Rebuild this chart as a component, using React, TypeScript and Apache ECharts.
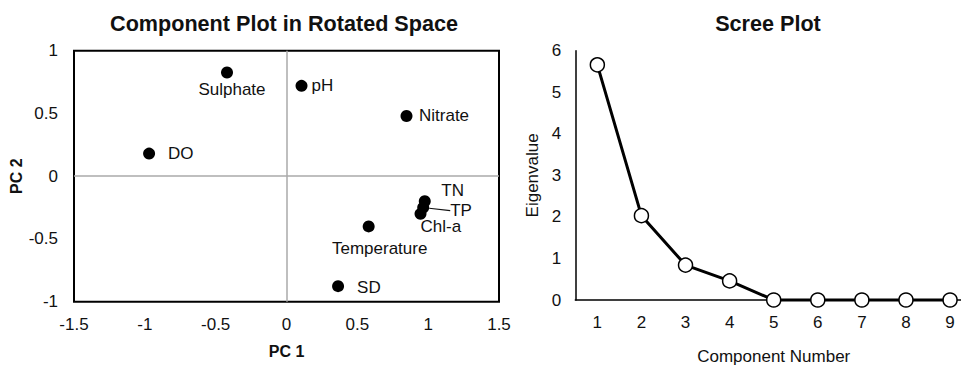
import React, { useEffect, useRef } from "react";
import * as echarts from "echarts";

const varNames = ["Sulphate", "pH", "Nitrate", "DO", "TN", "TP", "Chl-a", "Temperature", "SD"];
const pc1 = [-0.42, 0.106, 0.847, -0.97, 0.976, 0.965, 0.946, 0.58, 0.364];
const pc2 = [0.826, 0.72, 0.48, 0.18, -0.2, -0.25, -0.3, -0.4, -0.876];

const pcTicksX = [-1.5, 1.5, 0.5];
const pcTicksY = [-1, 1, 0.5];

const componentNumbers = ["1", "2", "3", "4", "5", "6", "7", "8", "9"];
const eigenvalues = [5.66, 2.03, 0.84, 0.46, 0, 0, 0, 0, 0];

// label placement (style, not data)
const labelPlace: Record<string, { align: string; dx: number; dy: number; leader?: boolean }> = {
  Sulphate: { align: "center", dx: 5, dy: 17 },
  pH: { align: "left", dx: 10, dy: 0 },
  Nitrate: { align: "left", dx: 12.5, dy: 0 },
  DO: { align: "left", dx: 19, dy: 0 },
  TN: { align: "left", dx: 16.5, dy: -10.5 },
  TP: { align: "left", dx: 27, dy: 3, leader: true },
  "Chl-a": { align: "left", dx: 0, dy: 13 },
  Temperature: { align: "center", dx: 11, dy: 22.5 },
  SD: { align: "left", dx: 19, dy: 1 },
};

const FONT = "Liberation Sans, Arial, Helvetica, sans-serif";
const TXT = "#111";

export default function App() {
  const ref = useRef<HTMLDivElement>(null);
  useEffect(() => {
    if (!ref.current) return;
    const chart = echarts.init(ref.current, undefined, { renderer: "svg" });
    const scatterData = varNames.map((n, i) => {
      const p = labelPlace[n];
      return {
        name: n,
        value: [pc1[i], pc2[i]],
        label: {
          show: true,
          position: "inside",
          align: p.align,
          verticalAlign: "middle",
          formatter: n,
        },
        labelLine: p.leader
          ? { show: true, length2: 0, smooth: 0.4, lineStyle: { color: "#111", width: 1.2 } }
          : { show: false },
      };
    });
    chart.setOption({
      animation: false,
      textStyle: { fontFamily: FONT },
      graphic: [
        {
          type: "text",
          x: 284,
          y: 23,
          style: {
            text: "Component Plot in Rotated Space",
            font: `bold 21.6px ${FONT}`,
            fill: TXT,
            textAlign: "center",
            textVerticalAlign: "middle",
          },
        },
        {
          type: "text",
          x: 768,
          y: 23,
          style: {
            text: "Scree Plot",
            font: `bold 21.6px ${FONT}`,
            fill: TXT,
            textAlign: "center",
            textVerticalAlign: "middle",
          },
        },
      ],
      grid: [
        {
          left: 74,
          top: 50.7,
          width: 425,
          height: 251,
          show: true,
          borderColor: "#000",
          borderWidth: 2,
          backgroundColor: "transparent",
          outerBoundsMode: "none",
          containLabel: false,
        },
        {
          left: 575.3,
          top: 50.7,
          width: 396.8,
          height: 249.3,
          outerBoundsMode: "none",
          containLabel: false,
        },
      ],
      xAxis: [
        {
          gridIndex: 0,
          type: "value",
          min: pcTicksX[0],
          max: pcTicksX[1],
          interval: pcTicksX[2],
          axisLine: { show: false },
          axisTick: { show: false },
          splitLine: { show: false },
          axisLabel: { color: TXT, fontSize: 17, margin: 14, fontFamily: FONT },
          name: "PC 1",
          nameLocation: "middle",
          nameGap: 42,
          nameTextStyle: { color: TXT, fontSize: 16, fontWeight: "bold", fontFamily: FONT },
        },
        {
          gridIndex: 1,
          type: "category",
          data: componentNumbers,
          boundaryGap: true,
          axisLine: { show: true, lineStyle: { color: "#000", width: 1.5 } },
          axisTick: { show: false },
          splitLine: { show: false },
          axisLabel: { color: TXT, fontSize: 17, margin: 14, interval: 0, fontFamily: FONT },
          name: "Component Number",
          nameLocation: "middle",
          nameGap: 48,
          nameTextStyle: { color: TXT, fontSize: 17, fontFamily: FONT },
        },
      ],
      yAxis: [
        {
          gridIndex: 0,
          type: "value",
          min: pcTicksY[0],
          max: pcTicksY[1],
          interval: pcTicksY[2],
          axisLine: { show: false },
          axisTick: { show: false },
          splitLine: { show: false },
          axisLabel: { color: TXT, fontSize: 17, margin: 16, fontFamily: FONT },
          name: "PC 2",
          nameLocation: "middle",
          nameGap: 40,
          nameTextStyle: { color: TXT, fontSize: 16, fontWeight: "bold", fontFamily: FONT },
        },
        {
          gridIndex: 1,
          type: "value",
          min: 0,
          max: 6,
          interval: 1,
          axisLine: { show: true, lineStyle: { color: "#000", width: 1.5 } },
          axisTick: { show: false },
          splitLine: { show: false },
          axisLabel: { color: TXT, fontSize: 17, margin: 14, fontFamily: FONT },
          name: "Eigenvalue",
          nameLocation: "middle",
          nameGap: 34,
          nameTextStyle: { color: TXT, fontSize: 17, fontFamily: FONT },
        },
      ],
      series: [
        {
          type: "scatter",
          xAxisIndex: 0,
          yAxisIndex: 0,
          symbol: "circle",
          symbolSize: 12,
          itemStyle: { color: "#000", opacity: 1 },
          label: { color: TXT, fontSize: 17, fontFamily: FONT },
          labelLine: { show: false },
          labelLayout: (params: any) => {
            const n = varNames[params.dataIndex];
            const p = labelPlace[n];
            return p ? { dx: p.dx, dy: p.dy } : {};
          },
          data: scatterData,
          markLine: {
            silent: true,
            symbol: "none",
            label: { show: false },
            lineStyle: { color: "#aaaaaa", type: "solid", width: 1.5 },
            data: [{ xAxis: 0 }, { yAxis: 0 }],
            z: 1,
          },
          z: 3,
        },
        {
          type: "line",
          xAxisIndex: 1,
          yAxisIndex: 1,
          data: eigenvalues,
          symbol: "circle",
          symbolSize: 14,
          showAllSymbol: true,
          lineStyle: { color: "#000", width: 3 },
          itemStyle: { color: "#fff", borderColor: "#000", borderWidth: 1.5 },
          clip: false,
        },
      ],
    });
    return () => chart.dispose();
  }, []);
  return (
    <div
      ref={ref}
      style={{ position: "fixed", left: 0, top: 0, width: 961, height: 365, background: "#fff" }}
    />
  );
}
